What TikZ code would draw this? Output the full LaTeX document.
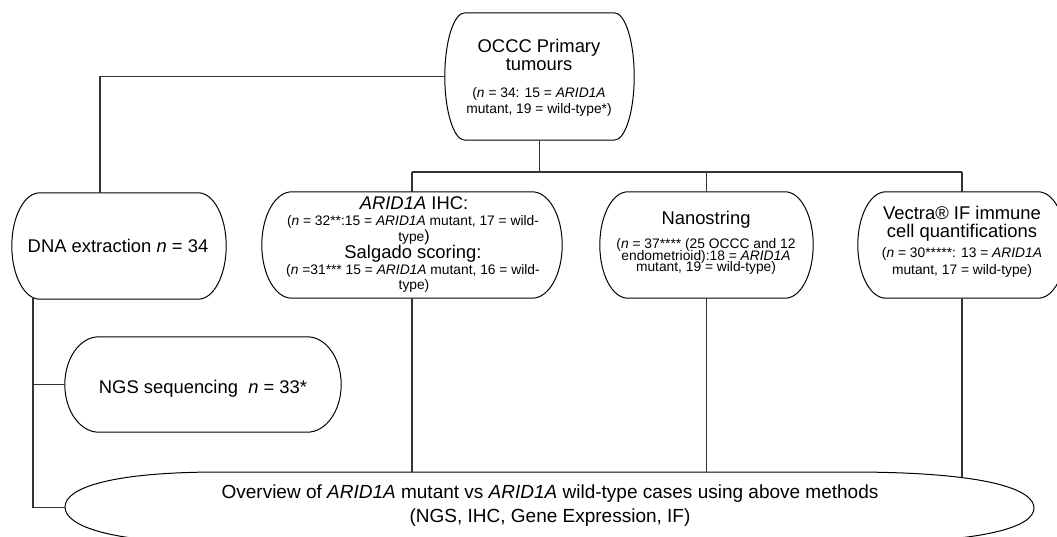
\documentclass[tikz,border=0pt]{standalone}
\usepackage{fontspec}
\setmainfont{Liberation Sans}
\usetikzlibrary{calc}
\newcommand\pillout[2]{%
  \draw[outl] let \p1=(#1.north west), \p2=(#1.south east), \n1={(\y1-\y2)/2} in
    (\x1+#2pt,\y1) -- (\x2-#2pt,\y1)
    arc[start angle=90,end angle=-90,x radius=#2pt,y radius=\n1]
    -- (\x1+#2pt,\y2)
    arc[start angle=270,end angle=90,x radius=#2pt,y radius=\n1] -- cycle;}
\tikzset{
  boxarea/.style={draw=none, inner sep=0, rectangle},
  outl/.style={draw=black, line width=1pt},
  conn/.style={draw=black!80, line width=1.3pt},
  hd/.style={font=\fontsize{18.4}{20}\selectfont, anchor=base, inner sep=0},
  sm/.style={font=\fontsize{13.8}{16}\selectfont, anchor=base, inner sep=0},
  smtight/.style={font={\fontsize{13.8}{11.8}\selectfont\lineskiplimit=-100pt}, align=center, inner sep=0},
  ovt/.style={font=\fontsize{19}{20}\selectfont, anchor=base, inner sep=0},
}
\begin{document}
\begin{tikzpicture}[x=1pt,y=1pt]
\useasboundingbox (0,0) rectangle (1057,-537);
\fill[white] (0,0) rectangle (1057,-537);
\clip (0,0) rectangle (1057,-537);

% ---- boxes (areas) ----
\node[boxarea, minimum width=189, minimum height=127] (occc) at (539.5,-76.5) {};
\node[boxarea, minimum width=214, minimum height=106] (dna) at (119,-246) {};
\node[boxarea, minimum width=300, minimum height=106] (ihc) at (412,-245) {};
\node[boxarea, minimum width=213, minimum height=106] (nano) at (706.5,-245) {};
\node[boxarea, minimum width=208, minimum height=106] (vec) at (962,-245) {};
\node[boxarea, minimum width=276, minimum height=95] (ngs) at (203,-384.5) {};
\node[boxarea, minimum width=969, minimum height=71] (ov) at (549.5,-507.5) {};

\pillout{occc}{20}
\pillout{dna}{28}
\pillout{ihc}{30}
\pillout{nano}{28}
\pillout{vec}{28}
\pillout{ngs}{34}
\draw[outl] (65,-507) .. controls (65,-488) and (110,-472) .. (220,-472)
  -- (850,-472) .. controls (990,-472) and (1034,-490) .. (1034,-508)
  .. controls (1034,-526) and (990,-543) .. (850,-543)
  -- (220,-543) .. controls (110,-543) and (65,-526) .. (65,-507) -- cycle;

% ---- texts ----
\node[hd] (occc1) at (539,-53) {OCCC Primary};
\node[hd] (occc2) at (539,-71) {tumours};
\node[sm] (occc3) at (539,-98) {(\textit{n} = 34: 15 = \textit{ARID1A}};
\node[sm] (occc4) at (539,-113.5) {mutant, 19 = wild-type*)};

\node[hd] (dna1) at (118,-253) {DNA extraction \textit{n} = 34};

\node[hd] (ihc1) at (414,-210) {\textit{ARID1A} IHC:};
\node[sm] (ihc2) at (413,-226) {(\textit{n} = 32**:15 = \textit{ARID1A} mutant, 17 = wild-};
\node[sm] (ihc3) at (414,-242) {type{\fontsize{16}{18}\selectfont )}};
\node[hd] (ihc4) at (413,-259) {Salgado scoring:};
\node[sm] (ihc5) at (413,-275) {(\textit{n} =31*** 15 = \textit{ARID1A} mutant, 16 = wild-};
\node[sm] (ihc6) at (414,-289.5) {type)};

\node[hd] (nano1) at (706,-225) {Nanostring};
\node[smtight] (nano2) at (706,-256.5) {(\textit{n} = 37**** (25 OCCC and 12\\endometrioid):18 = \textit{ARID1A}\\mutant, 19 = wild-type)};

\node[hd] (vec1) at (962,-220) {Vectra® IF immune};
\node[hd] (vec2) at (962,-238) {cell quantifications};
\node[sm] (vec3) at (962,-258) {(\textit{n} = 30*****: 13 = \textit{ARID1A}};
\node[sm] (vec4) at (962,-275) {mutant, 17 = wild-type)};

\node[hd] (ngs1) at (203,-393) {NGS sequencing\ \ \textit{n} = 33*};

\node[ovt] (ov1) at (550,-498) {Overview of \textit{ARID1A} mutant vs \textit{ARID1A} wild-type cases using above methods};
\node[ovt] (ov2) at (550,-522) {(NGS, IHC, Gene Expression, IF)};

% ---- connectors ----
\coordinate (j1) at (100,-76.5);
\draw[conn] (occc.west) -- (j1) -- (j1 |- dna.north);
\coordinate (j2) at (539.5,-172);
\draw[conn] (occc.south) -- (j2);
\draw[conn] (ihc.north |- j2) -- (vec.north |- j2);
\draw[conn] (ihc.north |- j2) -- (ihc.north);
\draw[conn] (nano.north |- j2) -- (nano.north);
\draw[conn] (vec.north |- j2) -- (vec.north);
\draw[conn] (ihc.south) -- (ihc.south |- ov.north);
\draw[conn] (nano.south) -- (nano.south |- ov.north);
\coordinate (j4) at (962,-477);
\draw[conn] (vec.south) -- (j4);
\coordinate (j3) at (33,-297);
\draw[conn] (j3) |- (ngs.west);
\draw[conn] (j3) |- (ov.west);
\end{tikzpicture}
\end{document}
